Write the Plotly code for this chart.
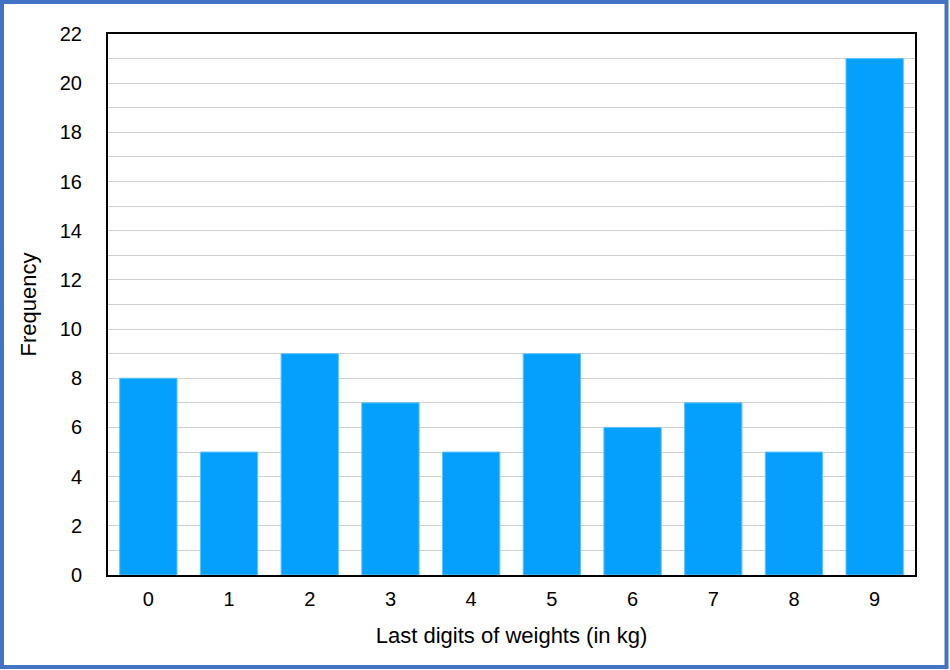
import plotly.graph_objects as go

digits = ["0", "1", "2", "3", "4", "5", "6", "7", "8", "9"]
frequency = [8, 5, 9, 7, 5, 9, 6, 7, 5, 21]
y_ticks = list(range(0, 23, 2))

W, H = 950, 670
L, R, T, B = 108, 35, 34, 95
pw, ph = W - L - R, H - T - B

def px_x(p):
    return (p - L) / pw

def px_y(p):
    return (H - B - p) / ph

fig = go.Figure(go.Bar(
    x=digits, y=frequency,
    marker=dict(color="#03A1FD", line=dict(color="#5CC3FF", width=1)),
))

fig.update_layout(
    width=W, height=H,
    margin=dict(l=L, r=R, t=T, b=B),
    paper_bgcolor="white", plot_bgcolor="white",
    bargap=0.29,
    showlegend=False,
    font=dict(family="Liberation Sans, Arial, sans-serif", size=20, color="black"),
    shapes=[dict(type="rect", xref="paper", yref="paper",
                 x0=px_x(2), x1=px_x(946.5), y0=px_y(667), y1=px_y(2),
                 line=dict(color="#4472C4", width=4), layer="above")],
)
fig.update_xaxes(
    type="category",
    showline=True, mirror=True, linecolor="black", linewidth=2,
    showgrid=False, ticks="", ticklabelstandoff=5,
    title=dict(text="Last digits of weights (in kg)", font=dict(size=22), standoff=19),
)
fig.update_yaxes(
    range=[0, 22], tickvals=y_ticks,
    showline=True, mirror=True, linecolor="black", linewidth=2,
    showgrid=True, gridcolor="#D0D0D0", gridwidth=1,
    minor=dict(dtick=1, showgrid=True, gridcolor="#D0D0D0", gridwidth=1),
    ticks="", ticklabelstandoff=20, zeroline=False,
    title=dict(text="Frequency", font=dict(size=22), standoff=17),
)

fig.write_html("out.html")
